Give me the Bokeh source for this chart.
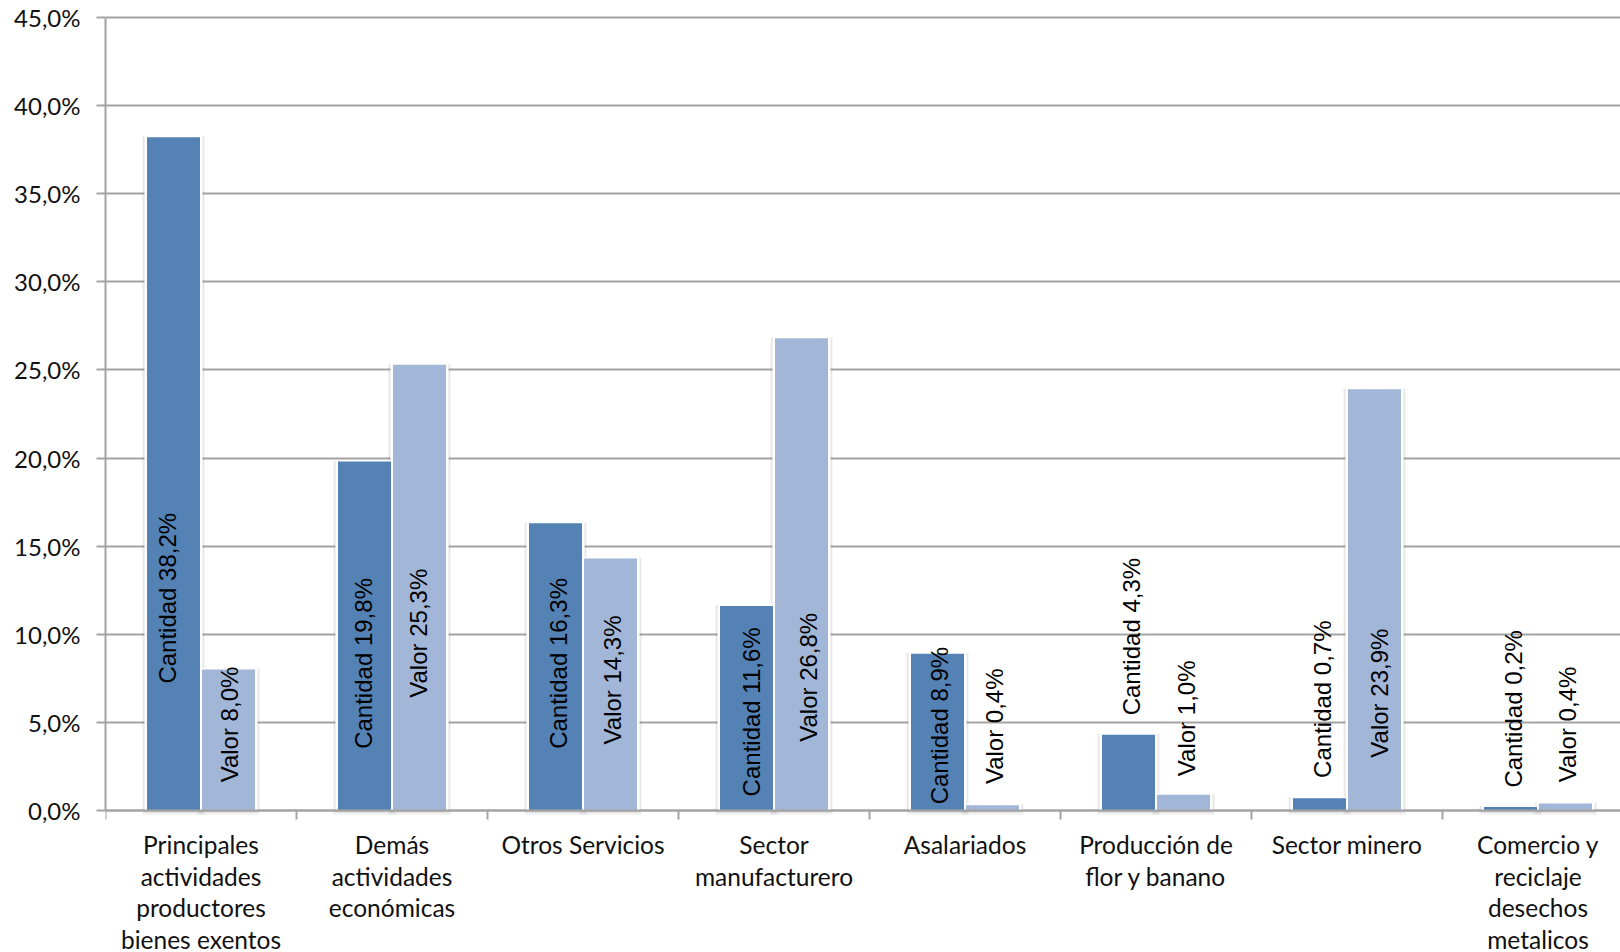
from bokeh.plotting import figure
from bokeh.models import ColumnDataSource, FixedTicker, Range1d
from bokeh.core.properties import value
from bokeh.embed import file_html
from bokeh.resources import INLINE

categories = ["Principales\nactividades\nproductores\nbienes exentos",
              "Demás\nactividades\neconómicas",
              "Otros Servicios",
              "Sector\nmanufacturero",
              "Asalariados",
              "Producción de\nflor y banano",
              "Sector minero",
              "Comercio y\nreciclaje\ndesechos\nmetalicos"]
cantidad = [38.2, 19.8, 16.3, 11.6, 8.9, 4.3, 0.7, 0.2]
valor = [8.0, 25.3, 14.3, 26.8, 0.3, 0.9, 23.9, 0.4]
cantidad_txt = ["38,2%", "19,8%", "16,3%", "11,6%", "8,9%", "4,3%", "0,7%", "0,2%"]
valor_txt = ["8,0%", "25,3%", "14,3%", "26,8%", "0,4%", "1,0%", "23,9%", "0,4%"]
y_ticks = [0, 5, 10, 15, 20, 25, 30, 35, 40, 45]
y_tick_labels = ["0,0%", "5,0%", "10,0%", "15,0%", "20,0%", "25,0%", "30,0%", "35,0%", "40,0%", "45,0%"]

# where the rotated labels start, in axis units
cant_label_x = [0.326, 1.352, 2.37, 3.38, 4.365, 5.37, 6.37, 7.37]
cant_label_y = [7.2, 3.5, 3.5, 0.8, 0.35, 5.4, 1.85, 1.3]
val_label_x = [0.65, 1.64, 2.655, 3.68, 4.655, 5.66, 6.67, 7.655]
val_label_y = [1.6, 6.4, 3.75, 3.9, 1.5, 1.95, 3.0, 1.6]

W, H = 1620, 952
LEFT, TOP = 105, 10          # frame edges; 45% sits 7px below the frame top
PX_PER_CAT = 191.0
PX_PER_UNIT = 793 / 45
x_end = (W - LEFT) / PX_PER_CAT
y_end = 45 + 7 / PX_PER_UNIT
y_start = -(H - 810) / PX_PER_UNIT

p = figure(width=W, height=H, output_backend="svg", toolbar_location=None,
           x_range=Range1d(0, x_end), y_range=Range1d(y_start, y_end),
           min_border_left=LEFT, min_border_right=0, min_border_top=TOP, min_border_bottom=0)
p.outline_line_color = None
GRAY = "#a3a3a3"

p.xgrid.visible = False
p.ygrid.ticker = FixedTicker(ticks=y_ticks)
p.ygrid.grid_line_color = GRAY
p.ygrid.grid_line_width = 2

yax = p.yaxis[0]
yax.ticker = FixedTicker(ticks=y_ticks)
yax.bounds = (0, 45)
yax.major_label_overrides = dict(zip(y_ticks, y_tick_labels))
yax.major_label_text_font = "Lato"
yax.major_label_text_font_size = "24px"
yax.major_label_text_color = "#111111"
yax.major_tick_in = 0
yax.major_tick_out = 9
yax.major_tick_line_color = GRAY
yax.major_tick_line_width = 2
yax.minor_tick_line_color = None
yax.axis_line_color = GRAY
yax.axis_line_width = 2
yax.major_label_standoff = 16

xax = p.xaxis[0]
xax.fixed_location = 0
xax.ticker = FixedTicker(ticks=list(range(len(categories) + 1)))
xax.major_label_text_color = None
xax.major_label_text_font_size = "1px"
xax.major_tick_in = 0
xax.major_tick_out = 9
xax.major_tick_line_color = GRAY
xax.major_tick_line_width = 2
xax.minor_tick_line_color = None
xax.axis_line_color = GRAY
xax.axis_line_width = 2

BAR = 53 / PX_PER_CAT
STEP = 27.5 / PX_PER_CAT
EDGE = 2.5 / PX_PER_CAT
xc = [i + 0.5 - STEP for i in range(len(categories))]
xv = [i + 0.5 + STEP for i in range(len(categories))]

for xs, vals in ((xc, cantidad), (xv, valor)):
    tops = [v + 0.05 for v in vals]
    p.vbar(x=xs, top=tops, bottom=-0.25, width=BAR + 4 * EDGE, fill_color="#777777", fill_alpha=0.07, line_color=None)
    p.vbar(x=xs, top=tops, bottom=-0.15, width=BAR + 3 * EDGE, fill_color="#777777", fill_alpha=0.12, line_color=None)
for xs, vals in ((xc, cantidad), (xv, valor)):
    p.vbar(x=xs, top=[v + 0.08 for v in vals], bottom=0, width=BAR + 2 * EDGE, fill_color="#ffffff", line_color=None)

p.vbar(x=xc, top=cantidad, bottom=0, width=BAR, fill_color="#5482b5", line_color=None)
p.vbar(x=xv, top=valor, bottom=0, width=BAR, fill_color="#a2b6d8", line_color=None)

data_src = ColumnDataSource(dict(
    x=cant_label_x + val_label_x,
    y=cant_label_y + val_label_y,
    t=["Cantidad " + s for s in cantidad_txt] + ["Valor " + s for s in valor_txt]))
p.text(x="x", y="y", text="t", source=data_src, angle=90, angle_units="deg",
       text_font=value("Liberation Sans"), text_font_size="24px", text_color="#000000",
       text_align="left", text_baseline="middle")

lx, ly, lt = [], [], []
for i, c in enumerate(categories):
    for j, line in enumerate(c.split("\n")):
        lx.append(i + 0.5)
        ly.append(-1.95 - j * 1.79)
        lt.append(line)
cat_src = ColumnDataSource(dict(x=lx, y=ly, t=lt))
p.text(x="x", y="y", text="t", source=cat_src,
       text_font=value("Lato"), text_font_size="24.5px", text_color="#111111",
       text_align="center", text_baseline="middle")

open("out.html", "w").write(file_html(p, INLINE))
